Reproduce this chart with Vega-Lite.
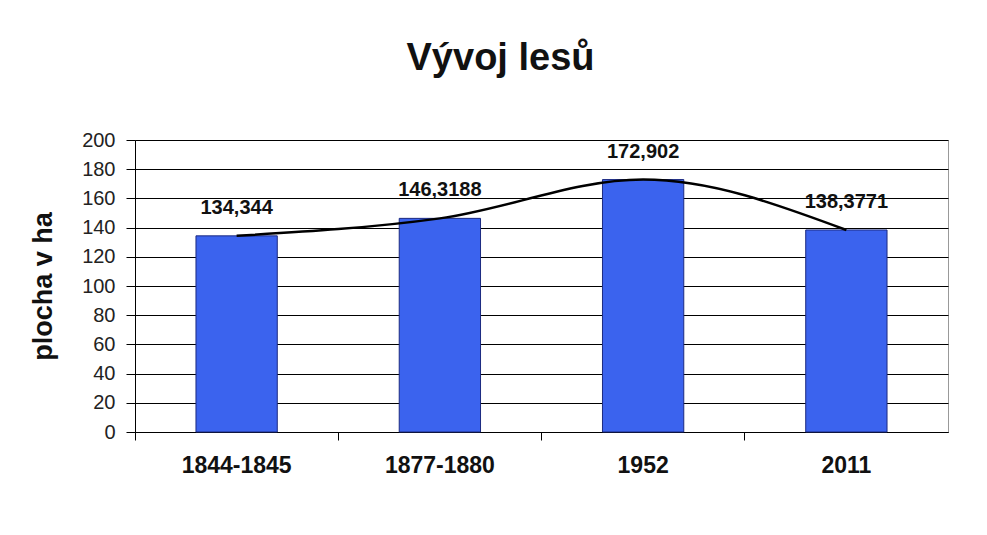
{
  "$schema": "https://vega.github.io/schema/vega-lite/v6.json",
  "width": 813,
  "height": 292,
  "autosize": {"type": "none"},
  "padding": {"left": 135, "top": 140, "right": 39, "bottom": 103},
  "background": "white",
  "title": {
    "text": "Vývoj lesů",
    "font": "Liberation Sans",
    "fontSize": 38,
    "fontWeight": "bold",
    "color": "#111",
    "anchor": "middle",
    "dx": -41,
    "offset": 52
  },
  "data": {
    "values": [
      {"obdobi": "1844-1845", "plocha": 134.344, "label": "134,344"},
      {"obdobi": "1877-1880", "plocha": 146.3188, "label": "146,3188"},
      {"obdobi": "1952", "plocha": 172.902, "label": "172,902"},
      {"obdobi": "2011", "plocha": 138.3771, "label": "138,3771"}
    ]
  },
  "encoding": {
    "x": {
      "field": "obdobi",
      "type": "nominal",
      "sort": null,
      "scale": {"paddingInner": 0.6, "paddingOuter": 0.3},
      "axis": {
        "title": null,
        "labelAngle": 0,
        "labelFont": "Liberation Sans",
        "labelFontSize": 23,
        "labelFontWeight": "bold",
        "labelColor": "#111",
        "labelPadding": 14,
        "domainColor": "black",
        "tickColor": "black",
        "tickSize": 8,
        "bandPosition": -0.75
      }
    },
    "y": {
      "field": "plocha",
      "type": "quantitative",
      "scale": {"domain": [0, 200]},
      "axis": {
        "title": "plocha v ha",
        "titleFont": "Liberation Sans",
        "titleFontSize": 27,
        "titleFontWeight": "bold",
        "titleColor": "#111",
        "titlePadding": 24,
        "values": [0, 20, 40, 60, 80, 100, 120, 140, 160, 180, 200],
        "labelFont": "Liberation Sans",
        "labelFontSize": 20,
        "labelColor": "#222",
        "labelPadding": 11,
        "domainColor": "black",
        "tickColor": "black",
        "tickSize": 9,
        "grid": true,
        "gridColor": "black",
        "gridOpacity": 1,
        "gridWidth": 1
      }
    }
  },
  "layer": [
    {
      "mark": {"type": "bar", "color": "#3b63ee", "stroke": "#1c2a80", "strokeWidth": 1}
    },
    {
      "mark": {"type": "line", "color": "black", "strokeWidth": 2.5, "interpolate": "monotone"}
    },
    {
      "mark": {"type": "text", "dy": -22, "baseline": "alphabetic", "font": "Liberation Sans", "fontSize": 20, "fontWeight": "bold", "color": "#111"},
      "encoding": {"text": {"field": "label"}}
    }
  ],
  "config": {
    "view": {"stroke": "#999", "strokeWidth": 1}
  }
}
